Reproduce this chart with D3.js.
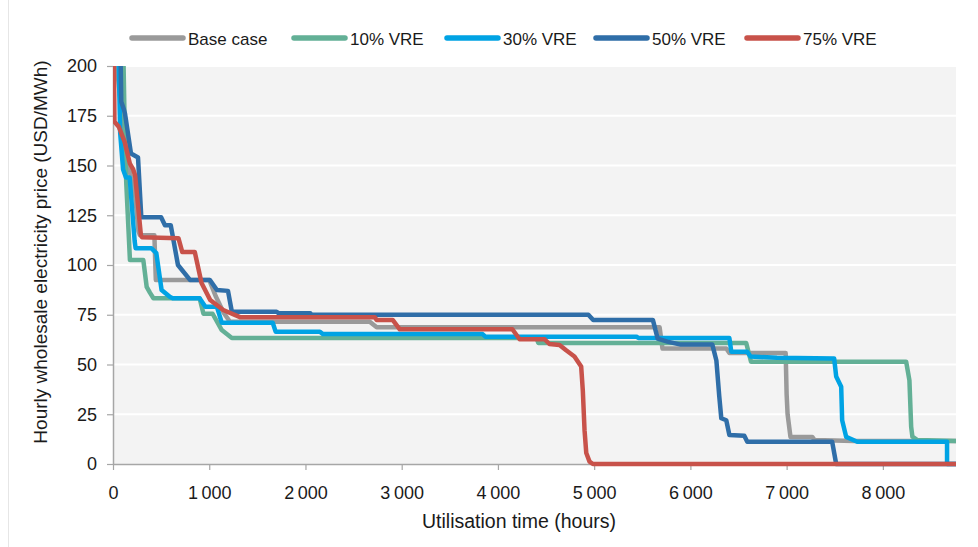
<!DOCTYPE html>
<html>
<head>
<meta charset="utf-8">
<script src="https://cdn.jsdelivr.net/npm/d3@7"></script>
<style>
  html, body { margin: 0; padding: 0; background: #ffffff; }
  svg { display: block; }
  text { font-family: "Liberation Sans", Arial, sans-serif; fill: #1a1a1a; }
</style>
</head>
<body>
<svg id="chart" width="978" height="547"></svg>
<script>
// ---------------- DATA ----------------
const seriesNames = ["Base case", "10% VRE", "30% VRE", "50% VRE", "75% VRE"];
const seriesColors = ["#9a9a9a", "#63b096", "#00a3e4", "#2f6ea8", "#c8524a"];

const xTicks = [0, 1000, 2000, 3000, 4000, 5000, 6000, 7000, 8000];
const yTicks = [0, 25, 50, 75, 100, 125, 150, 175, 200];

// [utilisation hours, price USD/MWh]
const baseCase = [[0,300],[40,200],[100,172],[160,150],[230,135],[265,117],[280,115],[430,115],[445,92.5],[1000,92.5],[1070,84],[1150,76],[1215,71.5],[2668,71.5],[2740,68.7],[5680,68.7],[5710,58],[6373,58],[6405,55.8],[6990,55.8],[7000,35],[7010,25],[7040,13.6],[7266,13.6],[7290,12],[7700,11.5],[8760,11.5]];

const vre10 = [[0,300],[110,200],[125,160],[138,141],[176,102.5],[315,102.5],[350,89],[385,86],[420,83.3],[900,83.3],[940,75.5],[1035,75.5],[1130,67.3],[1235,63.3],[4400,63.3],[4420,60.8],[6580,60.8],[6630,51.4],[8242,51.4],[8276,42],[8294,18.7],[8307,13.7],[8359,12],[8760,11.5]];

const vre30 = [[0,300],[60,200],[75,166],[105,148],[135,144],[173,144],[225,112],[235,108.4],[400,108.4],[450,106],[505,87.4],[590,84],[620,83.3],[900,83.3],[960,79],[1080,79],[1130,71],[1660,71],[1690,66.5],[2150,66.5],[2180,65.3],[3840,65.3],[3870,64],[5440,64],[5460,63.3],[6405,63.3],[6425,56.4],[6590,56.4],[6625,54],[6900,53.4],[7494,53],[7515,44],[7567,38.8],[7577,22],[7619,13.6],[7733,11.2],[8667,11.2],[8667,0],[8760,0]];

const vre50 = [[0,300],[80,200],[86,182],[114,178],[125,176],[187,156],[260,154],[294,124],[500,124],[540,120],[600,120],[675,100],[800,92.5],[1007,92.5],[1080,87.4],[1195,87],[1235,76.5],[1700,76.5],[1720,75.8],[2050,75.8],[2060,75],[4940,75],[4990,72.4],[5610,72.4],[5660,63],[5760,61.5],[5900,60],[6228,60],[6270,52],[6300,34],[6321,23],[6373,22],[6405,14.6],[6560,14.2],[6591,11.2],[7473,11.2],[7515,0],[8760,0]];

const vre75 = [[0,300],[10,200],[15,172],[60,169.5],[120,162],[175,151],[210,148],[230,145],[290,115],[300,114],[680,113.5],[720,106.5],[850,106.5],[920,91],[1010,82.4],[1145,77.4],[1320,73.8],[2720,73.8],[2740,72.4],[2906,72.4],[2980,67.7],[4150,67.7],[4225,62.7],[4485,62.7],[4535,60.3],[4640,59.8],[4712,57],[4795,54],[4865,49],[4882,37],[4900,17],[4918,5.5],[4952,1.2],[4987,0],[8760,0]];

const seriesData = [baseCase, vre10, vre30, vre50, vre75];

// ---------------- LAYOUT ----------------
const svg = d3.select("#chart");
const plot = { left: 113, right: 956, top: 66, bottom: 464 };

const x = d3.scaleLinear().domain([0, 8760]).range([plot.left, plot.right]);
const y = d3.scaleLinear().domain([0, 200]).range([plot.bottom, plot.top]);

const fmt = d3.formatLocale({ decimal: ".", thousands: "\u2009", grouping: [3], currency: ["", ""] }).format(",d");

// faint frame line on the left
svg.append("line").attr("x1", 8.5).attr("x2", 8.5).attr("y1", 0).attr("y2", 547)
  .attr("stroke", "#e6e6e6").attr("stroke-width", 1);

// plot background
svg.append("rect")
  .attr("x", plot.left).attr("y", plot.top)
  .attr("width", plot.right - plot.left).attr("height", plot.bottom - plot.top)
  .attr("fill", "#f3f3f3");

// gridlines
svg.append("g").selectAll("line").data(yTicks.filter(d => d > 0)).join("line")
  .attr("x1", plot.left).attr("x2", plot.right)
  .attr("y1", d => y(d)).attr("y2", d => y(d))
  .attr("stroke", "#ffffff").attr("stroke-width", 2);

// axes
const xAxis = d3.axisBottom(x).tickValues(xTicks).tickFormat(fmt).tickSize(6).tickPadding(16);
const gx = svg.append("g").attr("transform", `translate(0,${plot.bottom})`).call(xAxis);
gx.select(".domain").attr("stroke", "#a6a6a6").attr("stroke-width", 1.5)
  .attr("d", `M${plot.left},0.5H${plot.right}`);
gx.selectAll(".tick line").attr("stroke", "#a6a6a6").attr("stroke-width", 1.2);
gx.selectAll(".tick text").style("font-size", "18px").style("fill", "#1a1a1a")
  .style("font-family", "'Liberation Sans', Arial, sans-serif");

const yAxis = d3.axisLeft(y).tickValues(yTicks).tickSize(6).tickPadding(10);
const gy = svg.append("g").attr("transform", `translate(${plot.left},0)`).call(yAxis);
gy.select(".domain").attr("stroke", "#a6a6a6").attr("stroke-width", 1.5)
  .attr("d", `M0.5,${plot.top}V${plot.bottom}`);
gy.selectAll(".tick line").attr("stroke", "#a6a6a6").attr("stroke-width", 1.2);
gy.selectAll(".tick text").style("font-size", "18px").style("fill", "#1a1a1a")
  .style("font-family", "'Liberation Sans', Arial, sans-serif");

// clip
svg.append("defs").append("clipPath").attr("id", "clip")
  .append("rect").attr("x", plot.left).attr("y", plot.top)
  .attr("width", plot.right - plot.left + 2).attr("height", plot.bottom - plot.top + 10);

// lines (drawn over the axes, as in the original)
const line = d3.line().x(d => x(d[0])).y(d => y(d[1]));
const gLines = svg.append("g").attr("clip-path", "url(#clip)");
seriesData.forEach((data, i) => {
  gLines.append("path").datum(data)
    .attr("d", line)
    .attr("fill", "none")
    .attr("stroke", seriesColors[i])
    .attr("stroke-width", 4.5)
    .attr("stroke-linejoin", "round");
});

// axis titles
svg.append("text")
  .attr("x", 519).attr("y", 528)
  .attr("text-anchor", "middle")
  .style("font-size", "19.5px")
  .text("Utilisation time (hours)");

svg.append("text")
  .attr("transform", "translate(47,252) rotate(-90)")
  .attr("text-anchor", "middle")
  .style("font-size", "19px")
  .text("Hourly wholesale electricity price (USD/MWh)");

// legend
const legendX = [130, 292, 445, 594, 745];
const gLeg = svg.append("g");
seriesNames.forEach((name, i) => {
  const g = gLeg.append("g").attr("transform", `translate(${legendX[i]},38)`);
  g.append("line").attr("x1", 2).attr("x2", 53).attr("y1", 0).attr("y2", 0)
    .attr("stroke", seriesColors[i]).attr("stroke-width", 5.5).attr("stroke-linecap", "round");
  g.append("text").attr("x", 58).attr("y", 6.5).style("font-size", "17px").text(name);
});
</script>
</body>
</html>
